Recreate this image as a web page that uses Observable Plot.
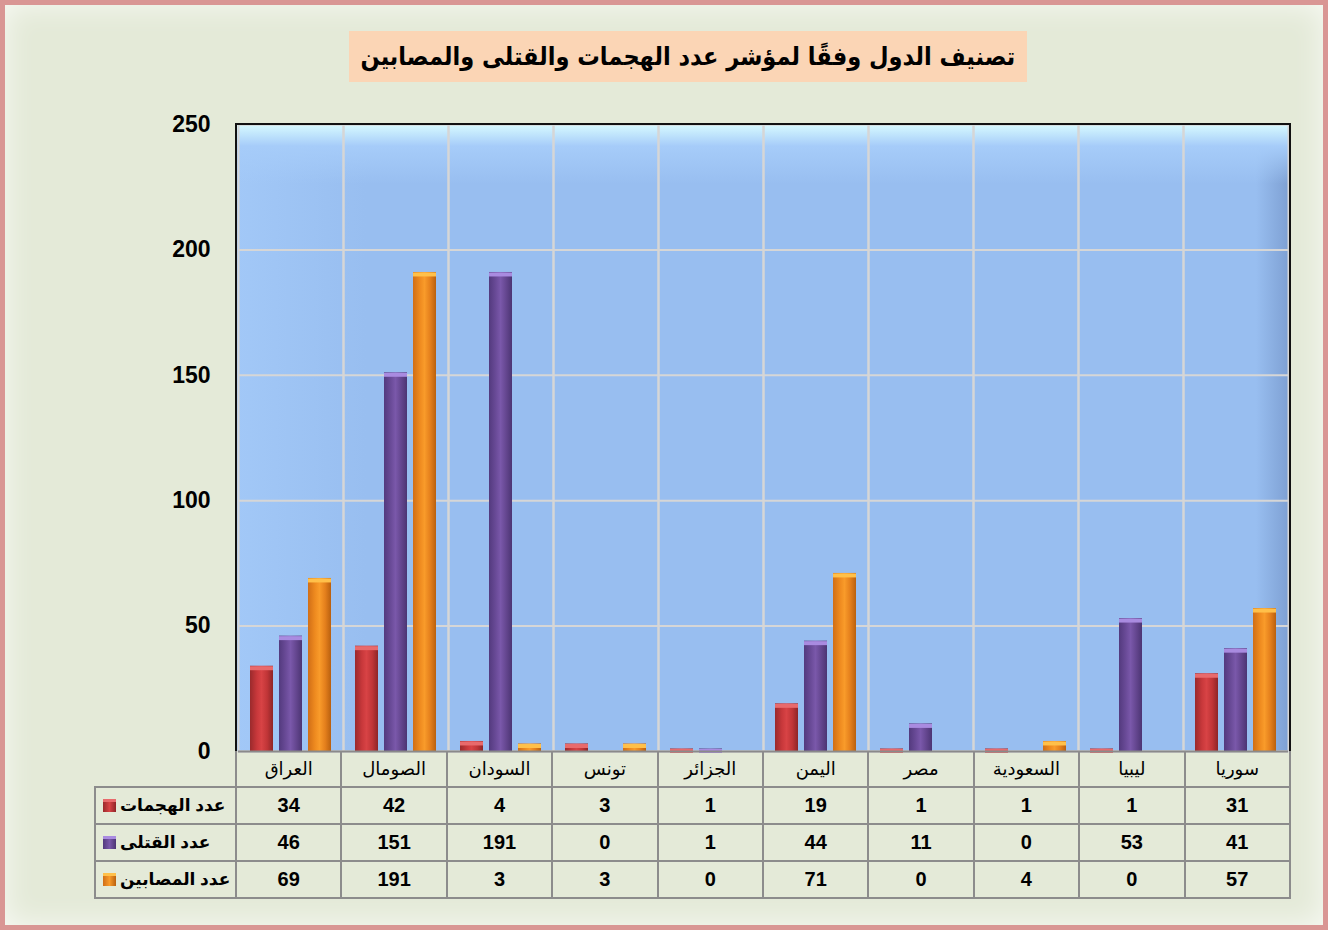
<!DOCTYPE html>
<html><head><meta charset="utf-8">
<script src="https://cdn.jsdelivr.net/npm/d3@7"></script>
<script src="https://cdn.jsdelivr.net/npm/@observablehq/plot@0.6"></script>
<style>
body{margin:0;background:#fff;}
#wrap{position:relative;width:1328px;height:930px;overflow:hidden;font-family:"Liberation Sans","DejaVu Sans",sans-serif;}
#bgframe{position:absolute;left:0;top:0;width:1328px;height:930px;box-sizing:border-box;border:5px solid #D99694;
  background:#E4EAD8;box-shadow:inset 0 0 30px rgba(255,255,255,0.75);}
#title{position:absolute;left:349px;top:31px;width:678px;height:51px;background:#FBD5B5;display:flex;align-items:center;justify-content:center;
  font-weight:bold;font-size:25px;direction:rtl;color:#000;white-space:nowrap;font-family:"DejaVu Sans",sans-serif;}
#title span{display:inline-block;transform:scaleX(0.9);}
#plotbg{position:absolute;left:236px;top:124px;width:1054px;height:627px;
  background:
   linear-gradient(to bottom, #D8FBFF 0px, #A6CCF9 22px, rgba(152,190,240,0) 60px),
   linear-gradient(to right, #A2C8F7 0px, #98BEF0 130px, #98BEF0 1020px, #7D9FD2 1054px);}
#chart{position:absolute;left:0;top:0;}
#border{position:absolute;left:235px;top:123px;width:1056px;height:629px;box-sizing:border-box;border:2px solid #111;border-bottom:none;pointer-events:none;}
#table{position:absolute;left:94px;top:751px;border-collapse:collapse;table-layout:fixed;}
#table td{border:2px solid #8C8C8C;text-align:center;padding:0;color:#000;white-space:nowrap;overflow:hidden;}
#table td.empty{border:none;border-right:2px solid #8C8C8C;}
#table td.cat{font-size:18px;font-weight:normal;height:35px;border-top:none;}
#table td.num{font-size:20px;font-weight:bold;height:35px;}
#table td.lab{font-size:17px;font-weight:bold;text-align:left;padding-left:7px;}
.icon{display:inline-block;width:13px;height:13px;vertical-align:middle;margin-right:4px;}
.lab span{vertical-align:middle;}
</style></head>
<body><div id="wrap">
<div id="bgframe"></div>
<div id="title"><span></span></div>
<div id="plotbg"></div>
<div id="chart"></div>
<div id="border"></div>
<table id="table"></table>
</div>
<script>
const countries = ["العراق","الصومال","السودان","تونس","الجزائر","اليمن","مصر","السعودية","ليبيا","سوريا"];
const seriesNames = ["عدد الهجمات","عدد القتلى","عدد المصابين"];
const attacks = [34,42,4,3,1,19,1,1,1,31];
const killed = [46,151,191,0,1,44,11,0,53,41];
const injured = [69,191,3,3,0,71,0,4,0,57];
const yTicks = [0,50,100,150,200,250];
const titleText = "تصنيف الدول وفقًا لمؤشر عدد الهجمات والقتلى والمصابين";

const seriesValues = [attacks, killed, injured];
const gradIds = ["gRed","gPurple","gOrange"];
const gradStops = [
  ["#9A2A2C","#C8383B","#D84345","#C03537","#8E2527"],
  ["#533A7E","#6A4B98","#7A58AA","#64468F","#4C3573"],
  ["#D06E17","#EE8A1F","#F99B2A","#E47F1C","#B9600F"]
];
const topColors = ["#E86A6C","#A98BE0","#FFC04A"];

document.querySelector("#title span").textContent = titleText;

const data = [];
countries.forEach((c, i) => {
  seriesNames.forEach((s, j) => data.push({country: c, series: s, value: seriesValues[j][i]}));
});

const topMarks = seriesNames.map((s, j) =>
  Plot.tickY(data.filter(d => d.series === s && d.value > 0),
    {fx: "country", x: "series", y: "value", stroke: topColors[j], strokeWidth: 4, dy: 2})
);

const chart = Plot.plot({
  width: 1328, height: 760,
  marginLeft: 236, marginRight: 38, marginTop: 124, marginBottom: 9,
  style: {background: "transparent", fontFamily: "'Liberation Sans','DejaVu Sans',sans-serif", fontSize: "23px", fontWeight: "bold", color: "#000", overflow: "visible"},
  fx: {domain: countries, padding: 0, axis: null},
  x: {domain: seriesNames, paddingInner: 0.2, paddingOuter: 0.4, axis: null},
  y: {domain: [0, 250], ticks: yTicks, tickSize: 0, tickPadding: 28, label: null},
  color: {domain: seriesNames, range: gradIds.map(id => `url(#${id})`)},
  marks: [
    Plot.gridY(yTicks, {stroke: "#D6D6D6", strokeOpacity: 1, strokeWidth: 2}),
    Plot.frame({stroke: "#D6D6D6", strokeWidth: 2}),
    Plot.barY(data, {fx: "country", x: "series", y: "value", fill: "series"}),
    ...topMarks,
    Plot.ruleY([0], {stroke: "#8A8A8A", strokeWidth: 2})
  ]
});

// gradients for bars
const ns = "http://www.w3.org/2000/svg";
const defs = document.createElementNS(ns, "defs");
gradIds.forEach((id, j) => {
  const g = document.createElementNS(ns, "linearGradient");
  g.setAttribute("id", id);
  g.setAttribute("x1", "0"); g.setAttribute("x2", "1"); g.setAttribute("y1", "0"); g.setAttribute("y2", "0");
  [0, 0.3, 0.5, 0.75, 1].forEach((o, k) => {
    const st = document.createElementNS(ns, "stop");
    st.setAttribute("offset", o);
    st.setAttribute("stop-color", gradStops[j][k]);
    g.appendChild(st);
  });
  defs.appendChild(g);
});
chart.insertBefore(defs, chart.firstChild);
document.getElementById("chart").appendChild(chart);

// data table
const table = d3.select("#table");
const colgroup = table.append("colgroup");
colgroup.append("col").style("width", "141px");
countries.forEach(() => colgroup.append("col").style("width", "105.4px"));

const hdr = table.append("tr");
hdr.append("td").attr("class", "empty");
countries.forEach(c => hdr.append("td").attr("class", "cat").text(c));

seriesNames.forEach((s, j) => {
  const tr = table.append("tr");
  const lab = tr.append("td").attr("class", "lab");
  lab.append("span").attr("class", "icon")
    .style("background", `linear-gradient(to right, ${gradStops[j][0]}, ${gradStops[j][2]}, ${gradStops[j][4]})`)
    .style("border-top", `3px solid ${topColors[j]}`).style("box-sizing", "border-box");
  lab.append("span").attr("dir", "rtl").text(s);
  seriesValues[j].forEach(v => tr.append("td").attr("class", "num").text(v));
});
</script>
</body></html>
